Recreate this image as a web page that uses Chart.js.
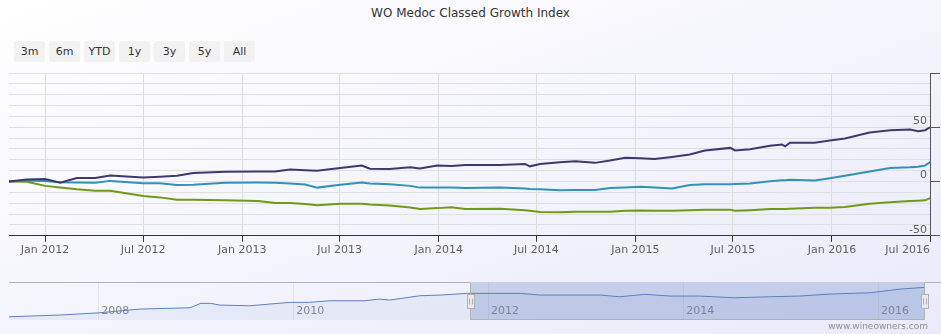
<!DOCTYPE html>
<html lang="en">
<head>
<meta charset="UTF-8">
<title>WO Medoc Classed Growth Index</title>
<script src="https://cdn.jsdelivr.net/npm/chart.js"></script>
<style>
  html, body { margin: 0; padding: 0; }
  body {
    width: 941px; height: 334px; overflow: hidden; position: relative;
    font-family: 'DejaVu Sans', sans-serif;
    background: linear-gradient(to bottom right, #ffffff, rgb(234, 234, 250));
  }
  .title { position: absolute; top: 6px; left: 0; width: 941px; text-align: center; font-size: 12px; color: #333; }
  .ranges { position: absolute; top: 41px; left: 14px; display: flex; gap: 4px; }
  .ranges span { width: 31px; height: 21px; line-height: 21px; text-align: center; font-size: 11px; color: #333; background: #f2f2f2; border-radius: 2px; }
  #mainWrap { position: absolute; left: 0; top: 63px; width: 941px; height: 196px; }
  #navWrap { position: absolute; left: 0; top: 274px; width: 941px; height: 50px; }
  .credit { position: absolute; right: 13px; top: 321px; font-size: 9px; color: #909090; }
</style>
</head>
<body>
  <div class="title">WO Medoc Classed Growth Index</div>
  <div class="ranges">
    <span>3m</span><span>6m</span><span>YTD</span><span>1y</span><span>3y</span><span>5y</span><span>All</span>
  </div>
  <div id="mainWrap"><canvas id="main"></canvas></div>
  <div id="navWrap"><canvas id="nav"></canvas></div>
  <div class="credit">www.wineowners.com</div>

<script>
// main chart data (change since start, %)
const dates = ['2011-10-26','2011-11-28','2012-01-01','2012-01-29','2012-02-29','2012-04-03','2012-05-01','2012-07-01',
  '2012-08-01','2012-09-02','2012-10-02','2012-11-30','2013-01-30','2013-03-03','2013-03-31','2013-04-28',
  '2013-05-20','2013-07-02','2013-08-11','2013-08-26','2013-10-02','2013-11-09','2013-11-27','2013-12-29',
  '2014-01-25','2014-02-19','2014-04-25','2014-06-10','2014-06-19','2014-07-08','2014-08-14','2014-09-11',
  '2014-10-18','2014-11-15','2014-12-13','2015-01-10','2015-02-06','2015-03-10','2015-04-12','2015-05-10',
  '2015-06-26','2015-07-05','2015-08-02','2015-09-08','2015-09-30','2015-10-06','2015-10-15','2015-11-30',
  '2015-12-28','2016-01-25','2016-03-11','2016-04-18','2016-05-25','2016-06-09','2016-06-22','2016-07-01'];

const navyValues = [0, 1.9, 2.3, -1.0, 3.2, 3.2, 5.6, 3.8, 4.4, 5.3, 7.8, 8.9, 9.3, 9.3, 11.0, 10.5,
  10.0, 12.5, 14.7, 11.8, 11.5, 13.1, 12.1, 14.7, 14.2, 15.2, 15.2, 16.2, 14.0, 16.2, 17.7, 18.7,
  17.2, 19.4, 21.8, 21.4, 20.7, 22.6, 24.9, 28.6, 31.0, 28.6, 29.7, 33.0, 34.2, 32.4, 35.8, 35.7,
  37.9, 39.6, 45.1, 47.3, 47.9, 46.3, 47.3, 49.9];

const tealValues = [0, 1.0, 0.6, -0.6, -1.0, -1.2, 0.6, -1.5, -1.5, -3.3, -3.0, -1.2, -1.0, -1.2, -1.9, -2.8,
  -5.6, -3.0, -1.0, -1.7, -2.4, -4.0, -5.6, -5.6, -5.6, -5.9, -5.6, -6.4, -6.8, -7.1, -8.0, -7.7,
  -7.7, -5.9, -5.4, -4.7, -5.4, -6.5, -3.3, -2.6, -2.6, -2.2, -1.7, 0.2, 1.1, 1.1, 1.6, 0.9,
  3.1, 5.3, 9.3, 12.5, 13.1, 13.7, 14.7, 17.9];

const greenValues = [0, -0.2, -4.0, -5.4, -7.2, -8.4, -8.4, -13.3, -14.6, -16.8, -16.8, -17.3, -18.0, -19.8, -19.8, -20.8,
  -21.9, -20.5, -20.5, -21.1, -22.0, -24.0, -25.2, -24.5, -23.6, -25.2, -25.0, -26.4, -26.9, -28.0, -28.3, -27.8,
  -27.8, -27.8, -26.9, -26.7, -26.9, -26.9, -26.4, -26.1, -25.9, -26.9, -26.4, -25.4, -25.4, -25.4, -25.0, -24.2,
  -24.2, -23.4, -20.5, -19.0, -18.0, -17.7, -17.3, -15.4];

const xTickDates = ['2012-01-01','2012-07-01','2013-01-01','2013-07-01','2014-01-01','2014-07-01',
  '2015-01-01','2015-07-01','2016-01-01','2016-07-01'];
const yTicks = [-50, -40, -30, -20, -10, 0, 10, 20, 30, 40, 50, 60, 70, 80, 90, 100];
const yLabels = [-50, 0, 50];

// navigator data (whole history)
const navDates = ['2007-02-01','2007-08-10','2008-01-08','2008-06-05','2008-12-10','2009-01-20','2009-02-25','2009-04-01',
  '2009-07-22','2009-12-20','2010-03-03','2010-05-19','2010-09-27','2010-11-20','2010-12-28','2011-04-20',
  '2011-07-05','2011-10-16','2012-05-01','2012-07-12','2013-02-24','2013-05-08','2013-08-10','2013-11-13',
  '2014-03-03','2014-07-12','2014-11-20','2015-03-14','2015-07-05','2015-12-01','2016-03-25','2016-06-25'];
const navValues = [100, 106.8, 116, 130.8, 136, 153.6, 153.6, 146.8, 144, 157.6, 157.6, 164, 164, 170.8, 166.8, 184,
  186.8, 193.6, 193.6, 186.8, 186.8, 180, 189.6, 182.8, 182.8, 176, 180, 182.8, 190.8, 196, 210.8, 217.6];
const navTickDates = ['2008-01-01','2010-01-01','2012-01-01','2014-01-01','2016-01-01'];

const MONTHS = ['Jan','Feb','Mar','Apr','May','Jun','Jul','Aug','Sep','Oct','Nov','Dec'];
const toX = d => Date.parse(d);
const fmtMonth = v => { const d = new Date(v); return MONTHS[d.getUTCMonth()] + ' ' + d.getUTCFullYear(); };
const points = (xs, ys) => ys.map((v, i) => ({ x: toX(xs[i]), y: v }));

const minX = toX(dates[0]);
const maxX = toX(dates[dates.length - 1]);
const font = { family: 'DejaVu Sans', size: 11 };

Chart.defaults.font.family = 'DejaVu Sans';

new Chart(document.getElementById('main'), {
  type: 'line',
  data: {
    datasets: [
      { label: 'Series 1', data: points(dates, navyValues), borderColor: '#3c3a6c', borderWidth: 2, pointRadius: 0 },
      { label: 'Series 2', data: points(dates, tealValues), borderColor: '#3391b6', borderWidth: 2, pointRadius: 0 },
      { label: 'Series 3', data: points(dates, greenValues), borderColor: '#6e9a16', borderWidth: 2, pointRadius: 0 }
    ]
  },
  options: {
    animation: false,
    responsive: true,
    maintainAspectRatio: false,
    layout: { padding: { left: 9, right: 0, top: 10, bottom: 0 } },
    plugins: { legend: { display: false }, tooltip: { enabled: false } },
    scales: {
      x: {
        type: 'linear', min: minX, max: maxX,
        afterBuildTicks: s => { s.ticks = [minX].concat(xTickDates.map(toX)).map(v => ({ value: v })); },
        ticks: {
          align: 'inner', autoSkip: false, maxRotation: 0, padding: 2, color: '#606060', font,
          callback: (v, i) => i === 0 ? '' : fmtMonth(v)
        },
        grid: {
          color: c => c.index === 0 ? 'transparent' : '#dcdcdc',
          tickColor: c => c.index === 0 ? 'transparent' : '#333',
          tickLength: 6
        },
        border: { color: '#333', width: 1 }
      },
      y: {
        position: 'right', min: yTicks[0], max: yTicks[yTicks.length - 1],
        afterBuildTicks: s => { s.ticks = yTicks.map(v => ({ value: v })); },
        afterFit: s => { s.width = 11; },
        ticks: {
          autoSkip: false, mirror: true, padding: -3, labelOffset: -6, color: '#606060', font,
          callback: v => yLabels.includes(v) ? String(v) : ''
        },
        grid: {
          color: '#e0e0e0', tickLength: 10,
          tickColor: c => (c.tick && c.tick.value % 50 === 0) ? '#555' : 'transparent'
        },
        border: { color: '#555' }
      }
    }
  }
});

// navigator: selected zone, outline and handles
const navigatorPlugin = {
  id: 'navigatorZone',
  beforeDatasetsDraw(chart) {
    const { ctx, chartArea: { right, top, bottom }, scales: { x } } = chart;
    const x1 = Math.round(x.getPixelForValue(minX));
    const x2 = Math.min(right, x.getPixelForValue(maxX));
    ctx.save();
    ctx.fillStyle = 'rgba(102,133,194,0.3)';
    ctx.fillRect(x1, top, x2 - x1, bottom - top);
    ctx.restore();
  },
  afterDatasetsDraw(chart) {
    const { ctx, chartArea: { left, right, top, bottom }, scales: { x } } = chart;
    const x1 = Math.round(x.getPixelForValue(minX)) + 0.5;
    const x2 = Math.round(Math.min(right, x.getPixelForValue(maxX))) - 0.5;
    const t = Math.round(top) + 0.5, b = Math.round(bottom) - 0.5;
    ctx.save();
    ctx.strokeStyle = '#b2b1b6';
    ctx.lineWidth = 1;
    ctx.beginPath();
    ctx.moveTo(left, t); ctx.lineTo(x1, t); ctx.lineTo(x1, b);
    ctx.lineTo(x2, b); ctx.lineTo(x2, t); ctx.lineTo(right + 16, t);
    ctx.stroke();
    const mid = Math.round((top + bottom) / 2);
    [x1, x2].forEach(hx => {
      const rx = Math.round(hx - 4) + 0.5, ry = mid - 7 + 0.5;
      ctx.fillStyle = '#ebe7e8';
      ctx.fillRect(rx, ry, 7, 14);
      ctx.strokeRect(rx, ry, 7, 14);
      ctx.beginPath();
      ctx.moveTo(rx + 2, ry + 4); ctx.lineTo(rx + 2, ry + 10);
      ctx.moveTo(rx + 5, ry + 4); ctx.lineTo(rx + 5, ry + 10);
      ctx.stroke();
    });
    ctx.restore();
  }
};

new Chart(document.getElementById('nav'), {
  type: 'line',
  data: {
    datasets: [{
      label: 'Navigator', data: points(navDates, navValues),
      borderColor: '#5a80c0', borderWidth: 1, pointRadius: 0,
      fill: 'start', backgroundColor: 'rgba(69,114,167,0.07)'
    }]
  },
  options: {
    animation: false,
    responsive: true,
    maintainAspectRatio: false,
    layout: { padding: { left: 9, right: 16, top: 8, bottom: 0 } },
    plugins: { legend: { display: false }, tooltip: { enabled: false } },
    scales: {
      x: {
        type: 'linear', min: toX(navDates[0]), max: toX(navDates[navDates.length - 1]),
        afterBuildTicks: s => { s.ticks = navTickDates.map(d => ({ value: toX(d) })); },
        ticks: {
          mirror: true, align: 'start', padding: 2, labelOffset: 3, color: '#888', font,
          callback: v => String(new Date(v).getUTCFullYear())
        },
        grid: { color: '#e2e2ea', drawTicks: false },
        border: { display: false }
      },
      y: { display: false, min: 87, max: 239 }
    }
  },
  plugins: [navigatorPlugin]
});
</script>
</body>
</html>
